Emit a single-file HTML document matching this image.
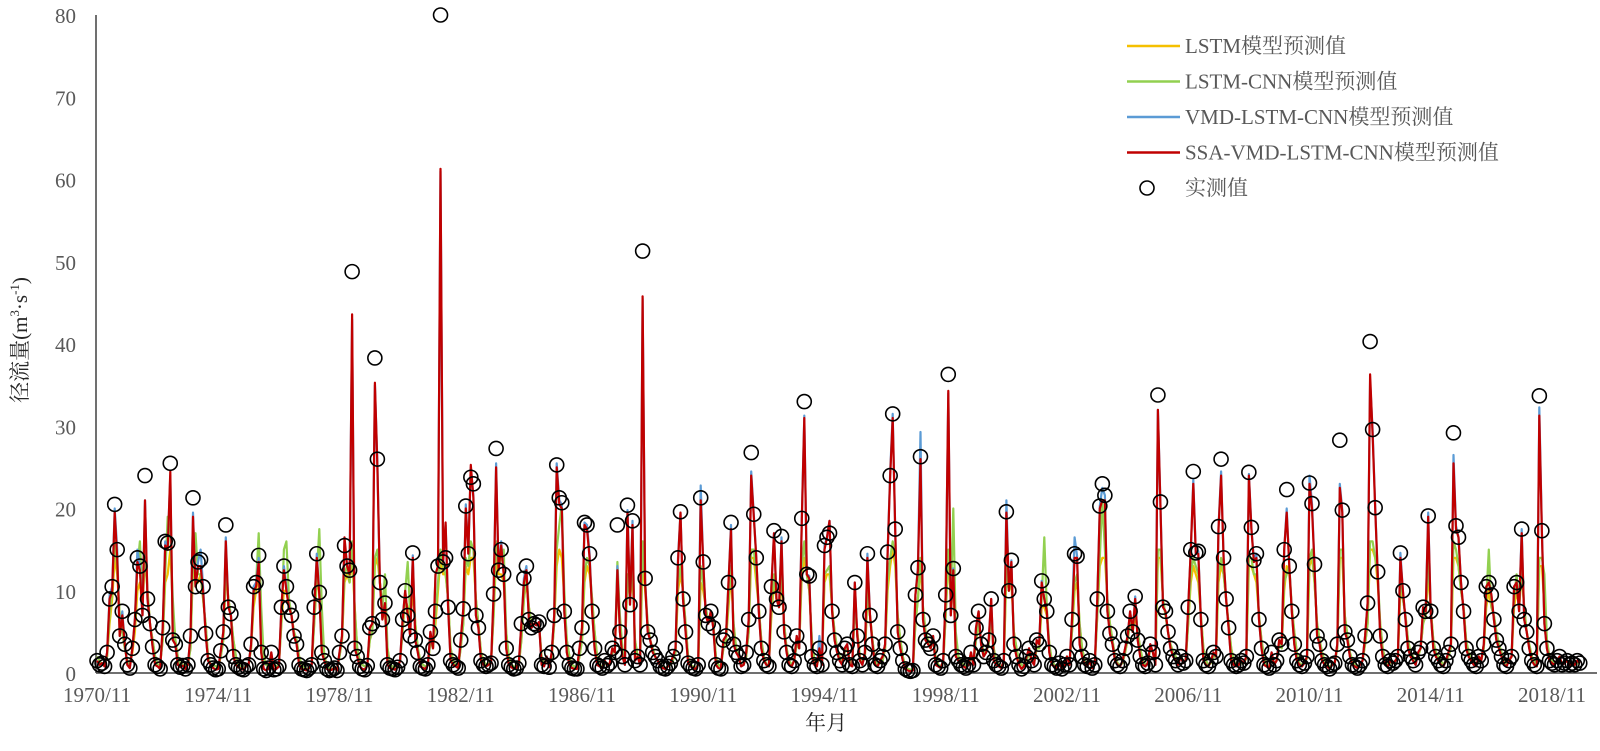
<!DOCTYPE html>
<html><head><meta charset="utf-8"><style>
html,body{margin:0;padding:0;background:#fff;}
svg{display:block;font-family:"Liberation Serif","Noto Serif CJK SC",serif;}
</style></head><body>
<svg id="chart" width="1600" height="751" viewBox="0 0 1600 751" xmlns="http://www.w3.org/2000/svg">
<g id="axes"></g>
<g id="series"></g>
<g id="legend"></g>
</svg>
<script>
const yTicks=[0,10,20,30,40,50,60,70,80];
const xTickLabels=["1970/11","1974/11","1978/11","1982/11","1986/11","1990/11","1994/11","1998/11","2002/11","2006/11","2010/11","2014/11","2018/11"];
const observed=[
1.5,1.0,1.2,0.8,2.5,9.0,10.5,20.5,15.0,4.5,7.5,3.5,
1.0,0.6,3.0,6.5,14.0,13.0,7.0,24.0,9.0,6.0,3.2,1.0,
0.8,0.5,5.5,16.0,15.8,25.5,4.0,3.5,1.0,0.7,0.9,0.5,
1.0,4.5,21.3,10.5,13.5,13.8,10.5,4.8,1.5,1.0,0.6,0.4,
0.5,2.7,5.0,18.0,8.0,7.2,2.0,1.0,0.7,0.5,0.4,0.8,
1.0,3.5,10.5,11.0,14.3,2.5,0.5,0.3,0.6,2.5,0.4,0.5,
0.8,8.0,13.0,10.5,8.0,7.0,4.5,3.5,1.0,0.5,0.4,0.3,
0.6,1.0,8.0,14.5,9.8,2.5,1.5,0.5,0.3,0.4,0.6,0.3,
2.5,4.5,15.5,13.0,12.5,48.8,3.0,2.0,0.8,0.5,0.4,0.9,
5.5,6.0,38.3,26.0,11.0,6.5,8.5,1.0,0.6,0.5,0.4,0.7,
1.5,6.5,10.0,7.0,4.5,14.6,4.0,2.5,0.8,0.6,0.5,1.0,
5.0,3.0,7.5,13.0,80.0,13.5,14.0,8.0,1.5,1.0,0.8,0.6,
4.0,7.8,20.3,14.5,23.8,23.0,7.0,5.5,1.5,1.0,0.8,1.0,
1.2,9.6,27.3,12.5,15.0,12.0,3.0,1.0,0.7,0.5,0.6,1.2,
6.0,11.5,13.0,6.5,5.5,6.0,5.8,6.2,1.0,0.8,2.0,0.7,
2.5,7.0,25.3,21.3,20.7,7.5,2.5,1.0,0.6,0.5,0.5,3.0,
5.5,18.3,18.0,14.5,7.5,3.0,1.0,0.8,0.6,1.5,0.9,1.2,
3.0,2.5,18.0,5.0,2.0,1.0,20.4,8.3,18.5,1.5,2.0,1.0,
51.3,11.5,5.0,4.0,2.5,2.0,1.5,0.8,0.6,0.5,0.8,1.2,
2.0,3.0,14.0,19.6,9.0,5.0,1.2,0.8,0.6,0.5,1.0,21.3,
13.5,7.0,6.0,7.5,5.5,1.0,0.6,0.5,4.0,4.5,11.0,18.3,
3.5,2.5,2.0,0.8,1.0,2.5,6.5,26.8,19.3,14.0,7.5,3.0,
1.5,1.0,0.8,10.5,17.3,9.0,8.0,16.6,5.0,2.5,1.0,0.8,
1.5,4.5,3.0,18.8,33.0,12.0,11.8,2.0,1.0,0.8,3.0,1.0,
15.5,16.5,17.0,7.5,4.0,2.5,1.5,1.0,3.0,3.5,1.0,0.8,
11.0,4.5,1.5,1.0,2.5,14.5,7.0,3.5,1.0,0.8,1.5,2.0,
3.5,14.7,24.0,31.5,17.5,5.0,3.0,1.5,0.5,0.3,0.2,0.3,
9.5,12.8,26.3,6.5,4.0,3.5,3.0,4.5,1.0,0.8,0.6,1.5,
9.5,36.3,7.0,12.7,2.0,1.5,1.0,0.8,0.6,1.0,2.5,1.0,
5.5,7.5,3.5,2.0,2.5,4.0,9.0,1.5,1.0,0.8,0.6,1.5,
19.6,10.0,13.7,3.5,2.0,1.0,0.5,0.8,2.0,3.0,1.5,1.0,
4.0,3.5,11.2,9.0,7.5,2.5,1.0,0.8,0.6,1.2,0.5,1.0,
2.0,1.0,6.5,14.5,14.2,3.5,2.0,1.0,0.8,1.5,0.6,1.0,
9.0,20.3,23.0,21.6,7.5,4.8,3.5,1.5,1.0,0.8,1.5,3.0,
4.5,7.5,5.0,9.3,4.0,2.0,1.0,0.8,1.2,3.5,2.5,1.0,
33.8,20.8,8.0,7.5,5.0,3.0,2.0,1.5,1.0,2.0,1.2,1.5,
8.0,15.0,24.5,14.6,14.8,6.5,1.5,1.0,0.8,1.5,2.5,2.0,
17.8,26.0,14.0,9.0,5.5,1.5,1.0,0.8,1.0,1.5,1.2,2.0,
24.4,17.7,13.7,14.5,6.5,3.0,1.0,0.8,0.6,2.5,1.0,1.5,
4.0,3.5,15.0,22.3,13.0,7.5,3.5,1.5,1.0,0.8,1.2,2.0,
23.1,20.6,13.2,4.5,3.5,1.5,1.0,0.8,0.5,1.0,1.2,3.5,
28.3,19.8,5.0,4.0,2.0,1.0,0.8,0.6,1.0,1.5,4.5,8.5,
40.3,29.6,20.1,12.3,4.5,2.0,1.0,0.8,1.5,1.2,1.5,2.0,
14.6,10.0,6.5,3.0,2.0,1.5,1.0,2.5,3.0,8.0,7.5,19.1,
7.5,3.0,2.0,1.5,1.0,0.8,1.5,2.5,3.5,29.2,17.9,16.5,
11.0,7.5,3.0,2.0,1.5,1.0,0.8,2.0,1.5,3.5,10.5,11.0,
9.5,6.5,4.0,3.0,2.0,1.0,0.8,1.5,2.0,10.5,11.0,7.5,
17.5,6.5,5.0,3.0,1.5,1.0,0.8,33.7,17.3,6.0,3.0,1.5,
1.2,1.0,1.5,2.0,1.0,1.2,1.5,1.0,1.2,1.0,1.5,1.2];
const ssaPred=[
1.5,1.0,1.2,0.8,2.5,9.0,10.0,19.5,14.0,4.5,7.0,3.5,
1.0,0.6,3.0,6.5,13.5,12.5,7.0,21.0,9.0,6.0,3.2,1.0,
0.8,0.5,5.5,15.5,15.0,24.5,4.0,3.5,1.0,0.7,0.9,0.5,
1.0,4.5,19.0,10.5,13.0,13.0,10.0,4.8,1.5,1.0,0.6,0.4,
0.5,2.7,5.0,16.0,8.0,7.0,2.0,1.0,0.7,0.5,0.4,0.8,
1.0,3.5,10.0,10.5,13.5,2.5,0.5,0.3,0.6,2.5,0.4,0.5,
0.8,8.0,12.5,10.0,8.0,7.0,4.5,3.5,1.0,0.5,0.4,0.3,
0.6,1.0,8.0,14.0,9.5,2.5,1.5,0.5,0.3,0.4,0.6,0.3,
2.5,4.5,16.5,13.0,12.0,43.6,3.0,2.0,0.8,0.5,0.4,0.9,
5.5,6.0,35.3,25.0,11.0,6.5,8.5,1.0,0.6,0.5,0.4,0.7,
1.5,6.5,10.0,7.0,4.5,14.0,4.0,2.5,0.8,0.6,0.5,1.0,
5.0,3.0,12.0,13.0,61.3,13.5,18.3,8.0,1.5,1.0,0.8,0.6,
4.0,7.8,20.0,14.5,25.3,21.3,7.0,5.5,1.5,1.0,0.8,1.0,
1.2,9.6,25.0,12.5,15.5,12.0,3.0,1.0,0.7,0.5,0.6,1.2,
6.0,11.0,12.5,6.5,5.5,6.0,5.8,6.2,1.0,0.8,2.0,0.7,
2.5,7.0,25.0,20.5,20.0,7.5,2.5,1.0,0.6,0.5,0.5,3.0,
5.5,18.0,17.5,14.0,7.5,3.0,1.0,0.8,0.6,1.5,0.9,1.2,
3.0,2.5,12.5,5.0,2.0,1.0,19.5,8.3,18.0,1.5,2.0,1.0,
45.8,11.0,5.0,4.0,2.5,2.0,1.5,0.8,0.6,0.5,0.8,1.2,
2.0,3.0,13.5,19.5,9.0,5.0,1.2,0.8,0.6,0.5,1.0,21.0,
13.5,7.0,6.0,7.5,5.5,1.0,0.6,0.5,4.0,4.5,11.0,17.5,
3.5,2.5,2.0,0.8,1.0,2.5,6.5,24.0,19.0,14.0,7.5,3.0,
1.5,1.0,0.8,10.5,17.0,9.0,8.0,16.0,5.0,2.5,1.0,0.8,
1.5,4.5,3.0,18.5,31.0,12.0,11.5,2.0,1.0,0.8,3.0,1.0,
15.0,16.5,18.5,7.5,4.0,2.5,1.5,1.0,3.0,3.5,1.0,0.8,
11.0,4.5,1.5,1.0,2.5,14.0,7.0,3.5,1.0,0.8,1.5,2.0,
3.5,14.5,24.0,31.0,17.5,5.0,3.0,1.5,0.5,0.3,0.2,0.3,
9.5,12.5,26.0,6.5,4.0,3.5,3.0,4.5,1.0,0.8,0.6,1.5,
9.5,34.3,7.0,12.5,2.0,1.5,1.0,0.8,0.6,1.0,2.5,1.0,
5.5,7.5,3.5,2.0,2.5,4.0,9.0,1.5,1.0,0.8,0.6,1.5,
19.5,10.0,13.5,3.5,2.0,1.0,0.5,0.8,2.0,3.0,1.5,1.0,
4.0,3.5,11.0,9.0,7.5,2.5,1.0,0.8,0.6,1.2,0.5,1.0,
2.0,1.0,6.5,14.0,14.0,3.5,2.0,1.0,0.8,1.5,0.6,1.0,
9.0,20.0,21.0,21.0,7.5,4.8,3.5,1.5,1.0,0.8,1.5,3.0,
4.5,7.5,5.0,9.0,4.0,2.0,1.0,0.8,1.2,3.5,2.5,1.0,
32.0,20.5,8.0,7.5,5.0,3.0,2.0,1.5,1.0,2.0,1.2,1.5,
8.0,15.0,23.0,14.5,14.5,6.5,1.5,1.0,0.8,1.5,2.5,2.0,
17.5,24.0,14.0,9.0,5.5,1.5,1.0,0.8,1.0,1.5,1.2,2.0,
24.0,17.5,13.5,14.0,6.5,3.0,1.0,0.8,0.6,2.5,1.0,1.5,
4.0,3.5,15.0,19.5,13.0,7.5,3.5,1.5,1.0,0.8,1.2,2.0,
23.0,20.0,13.0,4.5,3.5,1.5,1.0,0.8,0.5,1.0,1.2,3.5,
22.5,19.5,5.0,4.0,2.0,1.0,0.8,0.6,1.0,1.5,4.5,8.5,
36.3,29.0,20.0,12.0,4.5,2.0,1.0,0.8,1.5,1.2,1.5,2.0,
14.0,10.0,6.5,3.0,2.0,1.5,1.0,2.5,3.0,8.0,7.5,19.0,
7.5,3.0,2.0,1.5,1.0,0.8,1.5,2.5,3.5,25.5,17.5,16.5,
11.0,7.5,3.0,2.0,1.5,1.0,0.8,2.0,1.5,3.5,10.5,11.0,
9.5,6.5,4.0,3.0,2.0,1.0,0.8,1.5,2.0,10.5,11.0,7.5,
17.0,6.5,5.0,3.0,1.5,1.0,0.8,31.3,17.0,6.0,3.0,1.5,
1.2,1.0,1.5,2.0,1.0,1.2,1.5,1.0,1.2,1.0,1.5,1.2];
const vmdPred=[
1.5,1.0,1.2,0.8,2.5,9.5,10.5,20.0,15.0,4.5,7.5,3.5,
1.0,0.6,3.0,6.5,15.0,13.0,7.0,21.0,9.0,6.0,3.2,1.0,
0.8,0.5,5.5,16.0,15.5,24.0,4.0,3.5,1.0,0.7,0.9,0.5,
1.0,4.5,19.5,10.5,13.5,15.0,10.5,4.8,1.5,1.0,0.6,0.4,
0.5,2.7,5.0,16.5,8.0,7.2,2.0,1.0,0.7,0.5,0.4,0.8,
1.0,3.5,10.5,11.0,14.0,2.5,0.5,0.3,0.6,2.5,0.4,0.5,
0.8,8.0,13.0,10.5,8.0,7.0,4.5,3.5,1.0,0.5,0.4,0.3,
0.6,1.0,8.0,14.5,9.8,2.5,1.5,0.5,0.3,0.4,0.6,0.3,
2.5,4.5,16.0,13.0,12.5,43.0,3.0,2.0,0.8,0.5,0.4,0.9,
5.5,6.0,35.0,25.5,11.0,6.5,8.5,1.0,0.6,0.5,0.4,0.7,
1.5,6.5,10.0,7.0,4.5,14.3,4.0,2.5,0.8,0.6,0.5,1.0,
5.0,3.0,12.0,13.0,61.0,13.5,18.0,8.0,1.5,1.0,0.8,0.6,
4.0,7.8,20.5,14.5,25.0,21.5,7.0,5.5,1.5,1.0,0.8,1.0,
1.2,9.6,25.5,12.5,16.0,12.0,3.0,1.0,0.7,0.5,0.6,1.2,
6.0,11.5,13.0,6.5,5.5,6.0,5.8,6.2,1.0,0.8,2.0,0.7,
2.5,7.0,25.5,21.0,20.5,7.5,2.5,1.0,0.6,0.5,0.5,3.0,
5.5,18.3,18.0,14.5,7.5,3.0,1.0,0.8,0.6,1.5,0.9,1.2,
3.0,2.5,13.0,5.0,2.0,1.0,19.8,8.3,18.5,1.5,2.0,1.0,
45.5,11.5,5.0,4.0,2.5,2.0,1.5,0.8,0.6,0.5,0.8,1.2,
2.0,3.0,14.0,19.5,9.0,5.0,1.2,0.8,0.6,0.5,1.0,22.8,
13.5,7.0,6.0,7.5,5.5,1.0,0.6,0.5,4.0,4.5,11.0,18.0,
3.5,2.5,2.0,0.8,1.0,2.5,6.5,24.5,19.3,14.0,7.5,3.0,
1.5,1.0,0.8,10.5,17.0,9.0,8.0,16.5,5.0,2.5,1.0,0.8,
1.5,4.5,3.0,18.8,31.3,12.0,11.8,2.0,1.0,0.8,4.5,1.0,
15.5,16.5,18.5,7.5,4.0,2.5,1.5,1.0,3.0,3.5,1.0,0.8,
11.0,4.5,1.5,1.0,2.5,14.5,7.0,3.5,1.0,0.8,1.5,2.0,
3.5,14.7,24.5,31.5,17.5,5.0,3.0,1.5,0.5,0.3,0.2,0.3,
9.5,12.8,29.3,6.5,4.0,3.5,3.0,4.5,1.0,0.8,0.6,1.5,
9.5,34.0,7.0,12.7,2.0,1.5,1.0,0.8,0.6,1.0,2.5,1.0,
5.5,7.5,3.5,2.0,2.5,4.0,9.0,1.5,1.0,0.8,0.6,1.5,
21.0,10.0,13.7,3.5,2.0,1.0,0.5,0.8,2.0,3.0,1.5,1.0,
4.0,3.5,11.2,9.0,7.5,2.5,1.0,0.8,0.6,1.2,0.5,1.0,
2.0,1.0,6.5,16.5,14.2,3.5,2.0,1.0,0.8,1.5,0.6,1.0,
9.0,20.3,22.5,21.6,7.5,4.8,3.5,1.5,1.0,0.8,1.5,3.0,
4.5,7.5,5.0,9.3,4.0,2.0,1.0,0.8,1.2,3.5,2.5,1.0,
32.0,20.8,8.0,7.5,5.0,3.0,2.0,1.5,1.0,2.0,1.2,1.5,
8.0,15.0,23.5,14.6,14.8,6.5,1.5,1.0,0.8,1.5,2.5,2.0,
17.8,24.5,14.0,9.0,5.5,1.5,1.0,0.8,1.0,1.5,1.2,2.0,
24.2,17.7,13.7,14.5,6.5,3.0,1.0,0.8,0.6,2.5,1.0,1.5,
4.0,3.5,15.0,20.0,13.0,7.5,3.5,1.5,1.0,0.8,1.2,2.0,
24.0,20.6,13.2,4.5,3.5,1.5,1.0,0.8,0.5,1.0,1.2,3.5,
23.0,19.8,5.0,4.0,2.0,1.0,0.8,0.6,1.0,1.5,4.5,8.5,
35.5,29.6,20.1,12.3,4.5,2.0,1.0,0.8,1.5,1.2,1.5,2.0,
14.6,10.0,6.5,3.0,2.0,1.5,1.0,2.5,3.0,8.0,7.5,19.5,
7.5,3.0,2.0,1.5,1.0,0.8,1.5,2.5,3.5,26.5,17.9,16.5,
11.0,7.5,3.0,2.0,1.5,1.0,0.8,2.0,1.5,3.5,10.5,11.0,
9.5,6.5,4.0,3.0,2.0,1.0,0.8,1.5,2.0,10.5,11.0,7.5,
17.5,6.5,5.0,3.0,1.5,1.0,0.8,32.3,17.3,6.0,3.0,1.5,
1.2,1.0,1.5,2.0,1.0,1.2,1.5,1.0,1.2,1.0,1.5,1.2];
const lstmPred=[
2,1.5,1,1,2,6,9,14,12,7,5,3,
1.5,1,2.5,5,10,11,8,14,10,6,4,2,
1,1,4,11,12,15,8,4,2,1,1,1,
1,3,13,11,11,12,9,6,2,1,1,0.8,
0.8,2,4,12,9,7,4,2,1,0.8,0.6,0.8,
1,3,8,10,12,6,2,1,0.8,2,1,0.8,
1,6,10,10,8,7,5,4,2,1,0.6,0.5,
0.6,1,6,11,10,5,2,1,0.5,0.5,0.6,0.5,
2,4,11,12,11,14,8,3,1.5,1,0.8,1,
4,5,13,14,11,8,7,3,1,0.8,0.6,0.8,
1.5,5,9,8,6,10,6,3,1.5,1,0.8,1,
4,3,6,10,14,12,12,9,3,1.5,1,0.8,
3,6,13,12,14,14,9,6,2.5,1.5,1,1,
1.5,7,14,12,12,11,5,2,1,0.8,0.7,1,
4,9,11,8,6,6,6,6,2,1,1.5,1,
2,6,13,15,14,9,4,2,1,0.8,0.6,2,
4,11,13,12,9,5,2,1,0.8,1.2,1,1.2,
2.5,2.5,11,6,3,2,12,9,12,4,2,1.2,
14,10,6,4,3,2,1.5,1,0.8,0.6,0.8,1,
1.5,2.5,10,12,10,6,2,1,0.8,0.6,1,11,
10,8,6,7,6,2,1,0.8,3,4,8,12,
6,3,2,1,1,2,5,14,14,11,8,4,
2,1,1,7,11,9,8,11,6,3,1.5,1,
1.5,3.5,3,12,14,12,10,4,1.5,1,2,1.2,
11,12,12,8,5,3,2,1.5,2.5,3,1.5,1,
8,5,2,1.2,2,9,7,4,1.5,1,1.2,1.5,
3,10,13,15,13,7,4,2,0.8,0.5,0.4,0.4,
6,9,13,8,5,4,3,4,2,1,0.8,1.2,
7,14,9,10,4,2,1.5,1,0.8,1,2,1.2,
4,6,4,2.5,2.5,3.5,7,3,1.5,1,0.8,1.2,
12,10,11,5,3,1.5,1,0.8,1.5,2.5,1.5,1.2,
3,3,8,8,7,3.5,1.5,1,0.8,1,0.8,1,
2,1.2,5,10,11,6,3,1.5,1,1.2,0.8,1,
7,13,14,14,9,6,4,2,1.2,1,1.2,2.5,
4,6,5,7,5,3,1.5,1,1.2,3,2.5,1.2,
14,14,9,7,5,3.5,2.5,2,1.5,2,1.5,1.5,
6,11,13,12,11,7,3,1.5,1,1.2,2,2,
11,13,12,9,6,3,1.5,1,1,1.2,1.2,1.8,
13,13,12,11,7,4,2,1,0.8,2,1.2,1.5,
3.5,3,10,13,12,8,5,2.5,1.2,1,1.2,1.8,
13,14,11,6,4,2.5,1.5,1,0.8,1,1.2,3,
14,14,7,4.5,2.5,1.5,1,0.8,1,1.5,3.5,6,
15,15,14,11,6,3,1.5,1,1.2,1.2,1.5,2,
10,9,7,4,2.5,2,1.5,2,3,6,7,12,
8,4,2.5,2,1.5,1,1.5,2,3,14,14,13,
10,8,4,2.5,2,1.5,1,1.5,1.5,3,8,10,
8,7,5,3.5,2.5,1.5,1,1.5,2,8,10,8,
12,8,5,3.5,2,1.5,1,13,13,8,4,2,
1.5,1.2,1.5,1.8,1.2,1.2,1.5,1.2,1.2,1,1.2,1.2];
const lstmCnnPred=[
2,1.5,1,1,2,7,10,16,13,7,5,3,
1.5,1,3,6,13,16,9,15,10,6,4,2,
1,1,4,12,19,17,9,4,2,1,1,1,
1,3,14,17,12,12,9,6,2,1,1,0.8,
0.8,2,4,13,9,7,4,2,1,0.8,0.6,0.8,
1,3,9,11,17,8,2,1,0.8,2,1,0.8,
1,6,15,16,9,7,5,4,2,1,0.6,0.5,
0.6,1,6,12,17.5,8,2,1,0.5,0.5,0.6,0.5,
2,4,12,13,11,16,8,3,1.5,1,0.8,1,
4,5,14,15,11,8,12,3,1,0.8,0.6,0.8,
1.5,5,10,13.5,7,12,6,3,1.5,1,0.8,1,
4,3,7,11,15,13,12,9,3,1.5,1,0.8,
3,6,14,13,16,15,9,6,2.5,1.5,1,1,
1.5,7,16,13,14,15,5,2,1,0.8,0.7,1,
4,9,12,8,6,6,6,6,2,1,1.5,1,
2,6,15,18,20.5,10,4,2,1,0.8,0.6,2,
4,12,14,13,9,5,2,1,0.8,1.2,1,1.2,
2.5,2.5,13.5,7,3,2,12,9,13,4,2,1.2,
16,11,6,4,3,2,1.5,1,0.8,0.6,0.8,1,
1.5,2.5,11,13,10,6,2,1,0.8,0.6,1,13,
11,8,6,7,6,2,1,0.8,3,4,9,13,
6,3,2,1,1,2,5,15,15,12,8,4,
2,1,1,8,12,9,8,12,6,3,1.5,1,
1.5,3.5,3,13,16,12,10,4,1.5,1,2,1.2,
12,12.5,13,8,5,3,2,1.5,2.5,3,1.5,1,
8,5,2,1.2,2,10,7,4,1.5,1,1.2,1.5,
3,11,14,16,14,7,4,2,0.8,0.5,0.4,0.4,
6,9,14,8,5,4,3,4,2,1,0.8,1.2,
7,15,9,20,5,2,1.5,1,0.8,1,2,1.2,
4,6,4,2.5,2.5,3.5,7,3,1.5,1,0.8,1.2,
13,10,12,5,3,1.5,1,0.8,1.5,2.5,1.5,1.2,
3,3,9,16.5,8,3.5,1.5,1,0.8,1,0.8,1,
2,1.2,5,11,12,6,3,1.5,1,1.2,0.8,1,
7,14,21,15,9,6,4,2,1.2,1,1.2,2.5,
4,6,5,8,5,3,1.5,1,1.2,3,2.5,1.2,
15,15,9,7,5,3.5,2.5,2,1.5,2,1.5,1.5,
6,12,14,13,12,7,3,1.5,1,1.2,2,2,
12,14,12,9,6,3,1.5,1,1,1.2,1.2,1.8,
14,14,12,12,7,4,2,1,0.8,2,1.2,1.5,
3.5,3,11,12,13,8,5,2.5,1.2,1,1.2,1.8,
14,15,11,6,4,2.5,1.5,1,0.8,1,1.2,3,
15,15,7,4.5,2.5,1.5,1,0.8,1,1.5,3.5,6,
16,16,14,12,6,3,1.5,1,1.2,1.2,1.5,2,
12,9,7,4,2.5,2,1.5,2,3,6,7,14,
8,4,2.5,2,1.5,1,1.5,2,3,16,15,13,
10,8,4,2.5,2,1.5,1,1.5,1.5,3,9,15,
8,7,5,3.5,2.5,1.5,1,1.5,2,9,12,8,
13,8,5,3.5,2,1.5,1,14,14,12,4,2,
1.5,1.2,1.5,1.8,1.2,1.2,1.5,1.2,1.2,1,1.2,1.2];

const X0=97, PXM=2.526, Y0=673, PXV=(673-15)/80;
function xs(i){return X0+i*PXM;}
function ys(v){return Y0-v*PXV;}
const NS="http://www.w3.org/2000/svg";
function mk(tag,attrs,parent){const e=document.createElementNS(NS,tag);for(const k in attrs)e.setAttribute(k,attrs[k]);parent.appendChild(e);return e;}
const axes=document.getElementById('axes');
const series=document.getElementById('series');
const legend=document.getElementById('legend');
const TXT="#595959";

yTicks.forEach(t=>{
 const e=mk('text',{x:76,y:ys(t)+8,'text-anchor':'end','font-size':21,fill:TXT},axes);
 e.textContent=t;
 
 
});
xTickLabels.forEach((l,k)=>{
 const e=mk('text',{x:xs(k*48),y:702,'text-anchor':'middle','font-size':21,fill:TXT},axes);
 e.textContent=l;
 
 
});
const yAxis=mk('line',{x1:X0-1,y1:15,x2:X0-1,y2:Y0,stroke:'#404040','stroke-width':1.5},axes);


const xAxis=mk('line',{x1:X0-1,y1:Y0,x2:1597,y2:Y0,stroke:'#404040','stroke-width':1.5},axes);


const yt=mk('text',{x:0,y:0,'font-size':21,fill:'#262626',transform:'translate(27,340) rotate(-90)','text-anchor':'middle'},axes);
yt.innerHTML='径流量(m<tspan font-size="13" dy="-8">3</tspan><tspan dy="8">·s</tspan><tspan font-size="13" dy="-8">-1</tspan><tspan dy="8">)</tspan>';


const xt=mk('text',{x:826,y:730,'font-size':21,fill:'#262626','text-anchor':'middle'},axes);
xt.textContent='年月';



function line(arr,color,name){
 const d=arr.map((v,i)=>(i?'L':'M')+xs(i).toFixed(1)+','+ys(v).toFixed(1)).join('');
 const p=mk('path',{d:d,fill:'none',stroke:color,'stroke-width':2.2,'stroke-linejoin':'round'},series);
 
 
}
line(lstmPred,'#f5c000','lstm-line');
line(lstmCnnPred,'#92d050','lstm-cnn-line');
line(vmdPred,'#5b9bd5','vmd-lstm-cnn-line');
line(ssaPred,'#c00000','ssa-vmd-lstm-cnn-line');
observed.forEach((v,i)=>{
 const c=mk('circle',{cx:xs(i),cy:ys(v),r:7,fill:'none',stroke:'#000','stroke-width':1.6},series);
 
 
});

const legItems=[['LSTM模型预测值','#f5c000'],['LSTM-CNN模型预测值','#92d050'],['VMD-LSTM-CNN模型预测值','#5b9bd5'],['SSA-VMD-LSTM-CNN模型预测值','#c00000']];
legItems.forEach((it,k)=>{
 const y=46+k*35.5;
 const g=mk('g',{},legend);
 
 
 mk('line',{x1:1127,y1:y,x2:1180,y2:y,stroke:it[1],'stroke-width':2.5},g);
 const t=mk('text',{x:1185,y:y+7,'font-size':21,fill:TXT},g);
 t.textContent=it[0];
});
const g5=mk('g',{},legend);


mk('circle',{cx:1147,cy:188,r:7,fill:'none',stroke:'#000','stroke-width':1.6},g5);
const t5=mk('text',{x:1185,y:195,'font-size':21,fill:TXT},g5);
t5.textContent='实测值';
</script>
</body></html>
